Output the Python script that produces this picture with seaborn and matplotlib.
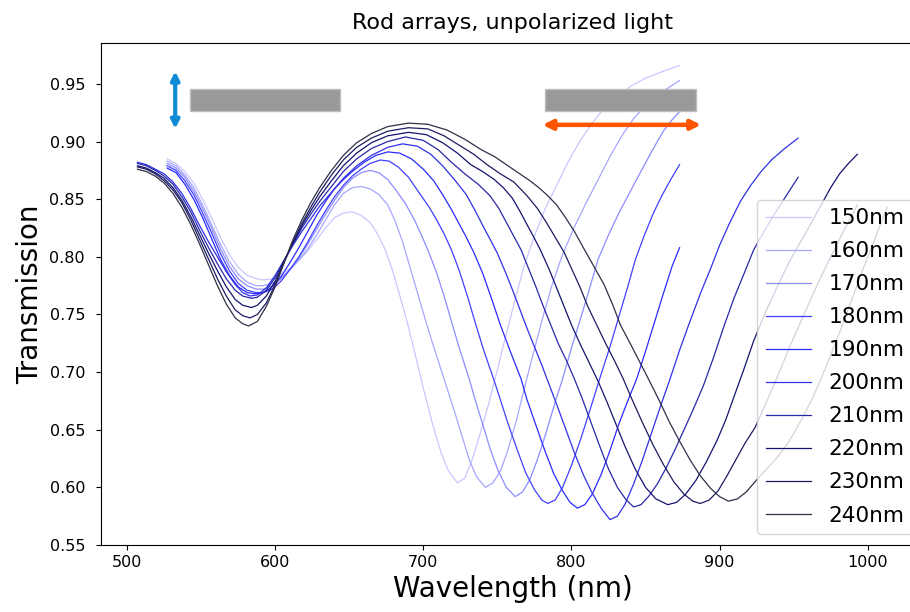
import matplotlib
matplotlib.use('Agg')
import matplotlib.pyplot as plt
import pandas as pd
import seaborn as sns
from matplotlib.patches import Rectangle

labels = ['150nm', '160nm', '170nm', '180nm', '190nm',
          '200nm', '210nm', '220nm', '230nm', '240nm']
colors = ['#c8c8ff', '#a6a6ff', '#8c8cff', '#4040ff', '#2a2aff',
          '#3030e6', '#2828a8', '#141470', '#1c1c60', '#303048']

wl_150 = [527, 533, 539, 545, 551, 557, 563, 569, 575, 581, 587, 592, 598, 604, 610, 616, 622, 628, 634, 640,
          646, 652, 658, 664, 669, 674, 679, 684, 689, 694, 700, 706, 712, 717, 723, 728, 733, 738, 744, 750,
          756, 762, 768, 775, 782, 790, 798, 806, 814, 822, 830, 840, 850, 862, 873]
t_150 = [0.885, 0.881, 0.874, 0.864, 0.850, 0.834, 0.817, 0.802, 0.791, 0.784, 0.781, 0.780, 0.781, 0.785, 0.790, 0.797, 0.805, 0.815, 0.825, 0.834,
         0.838, 0.839, 0.836, 0.830, 0.820, 0.807, 0.789, 0.767, 0.744, 0.718, 0.686, 0.656, 0.630, 0.614, 0.604, 0.608, 0.624, 0.645, 0.672, 0.702,
         0.733, 0.763, 0.792, 0.818, 0.841, 0.862, 0.883, 0.901, 0.916, 0.929, 0.939, 0.948, 0.955, 0.961, 0.966]

wl_160 = [527, 533, 539, 545, 551, 557, 563, 569, 575, 581, 587, 592, 598, 604, 610, 616, 622, 628, 634, 640,
          646, 652, 658, 664, 670, 676, 681, 686, 691, 696, 701, 706, 711, 716, 721, 726, 731, 736, 742, 747,
          752, 757, 763, 769, 775, 781, 787, 794, 802, 810, 818, 826, 834, 842, 850, 860, 873]
t_160 = [0.883, 0.879, 0.871, 0.860, 0.845, 0.828, 0.811, 0.796, 0.785, 0.778, 0.775, 0.775, 0.777, 0.782, 0.789, 0.797, 0.807, 0.819, 0.832, 0.845,
         0.855, 0.860, 0.861, 0.859, 0.854, 0.845, 0.831, 0.813, 0.791, 0.769, 0.747, 0.726, 0.706, 0.686, 0.666, 0.645, 0.624, 0.609, 0.600, 0.604,
         0.614, 0.632, 0.659, 0.690, 0.720, 0.749, 0.776, 0.802, 0.826, 0.847, 0.867, 0.887, 0.905, 0.920, 0.931, 0.942, 0.953]

wl_170 = [527, 533, 539, 545, 551, 557, 563, 569, 575, 581, 587, 592, 598, 604, 610, 616, 622, 628, 634, 640,
          646, 652, 658, 664, 670, 676, 682, 688, 694, 699, 704, 709, 714, 719, 724, 731, 735, 740, 745, 750,
          756, 762, 767, 772, 777, 783, 789, 794, 800, 807, 813, 818, 825, 832, 839, 846, 854, 862, 868, 873]
t_170 = [0.881, 0.877, 0.869, 0.857, 0.842, 0.825, 0.807, 0.792, 0.781, 0.775, 0.772, 0.772, 0.775, 0.781, 0.789, 0.799, 0.811, 0.824, 0.837, 0.849,
         0.860, 0.868, 0.873, 0.875, 0.873, 0.867, 0.857, 0.846, 0.832, 0.818, 0.803, 0.786, 0.766, 0.744, 0.722, 0.694, 0.676, 0.655, 0.634, 0.616,
         0.600, 0.592, 0.596, 0.607, 0.624, 0.648, 0.674, 0.694, 0.721, 0.750, 0.776, 0.798, 0.819, 0.838, 0.855, 0.872, 0.891, 0.909, 0.919, 0.926]

wl_180 = [527, 533, 539, 545, 551, 557, 563, 569, 575, 581, 587, 592, 598, 604, 610, 616, 622, 628, 634, 640,
          646, 652, 658, 664, 671, 677, 683, 690, 698, 704, 709, 714, 719, 724, 730, 735, 741, 748, 752, 757,
          763, 769, 775, 780, 784, 789, 794, 800, 806, 812, 819, 826, 832, 838, 843, 849, 855, 861, 867, 873]
t_180 = [0.879, 0.875, 0.866, 0.854, 0.838, 0.821, 0.803, 0.788, 0.777, 0.771, 0.769, 0.769, 0.772, 0.779, 0.789, 0.800, 0.813, 0.827, 0.840, 0.852,
         0.862, 0.870, 0.876, 0.881, 0.884, 0.883, 0.878, 0.869, 0.854, 0.843, 0.832, 0.820, 0.806, 0.789, 0.765, 0.743, 0.718, 0.692, 0.676, 0.656,
         0.634, 0.613, 0.598, 0.589, 0.586, 0.589, 0.600, 0.619, 0.641, 0.665, 0.694, 0.722, 0.748, 0.774, 0.797, 0.818, 0.837, 0.853, 0.867, 0.880]

wl_190 = [527, 533, 539, 545, 551, 557, 563, 569, 575, 581, 586, 592, 598, 604, 610, 616, 622, 628, 634, 640,
          646, 652, 660, 668, 676, 684, 692, 700, 707, 713, 719, 724, 729, 734, 740, 746, 752, 759, 766, 770,
          776, 782, 788, 794, 799, 804, 809, 814, 820, 826, 832, 838, 844, 850, 856, 862, 868, 873]
t_190 = [0.877, 0.873, 0.863, 0.850, 0.834, 0.816, 0.798, 0.784, 0.774, 0.769, 0.768, 0.769, 0.774, 0.783, 0.795, 0.808, 0.822, 0.836, 0.848, 0.859,
         0.867, 0.874, 0.882, 0.888, 0.891, 0.890, 0.885, 0.876, 0.866, 0.854, 0.841, 0.829, 0.817, 0.804, 0.786, 0.764, 0.741, 0.717, 0.694, 0.676,
         0.654, 0.632, 0.612, 0.597, 0.587, 0.582, 0.585, 0.594, 0.611, 0.632, 0.655, 0.675, 0.694, 0.718, 0.743, 0.768, 0.792, 0.808]

wl_200 = [507, 513, 519, 525, 531, 537, 543, 549, 555, 561, 567, 573, 578, 583, 588, 594, 600, 606, 612, 618,
          624, 630, 638, 646, 655, 665, 676, 686, 696, 705, 713, 721, 729, 735, 741, 746, 750, 755, 760, 765,
          770, 775, 780, 785, 790, 796, 802, 808, 814, 820, 826, 831, 836, 842, 848, 854, 860, 866, 873, 880,
          887, 894, 900, 907, 914, 921, 928, 935, 943, 953]
t_200 = [0.882, 0.880, 0.876, 0.872, 0.865, 0.855, 0.842, 0.827, 0.813, 0.800, 0.787, 0.776, 0.769, 0.766, 0.767, 0.773, 0.784, 0.797, 0.810, 0.822,
         0.833, 0.844, 0.856, 0.868, 0.879, 0.888, 0.895, 0.898, 0.896, 0.889, 0.879, 0.867, 0.854, 0.840, 0.825, 0.813, 0.803, 0.788, 0.772, 0.755,
         0.738, 0.722, 0.706, 0.689, 0.672, 0.651, 0.630, 0.611, 0.595, 0.582, 0.572, 0.575, 0.585, 0.603, 0.624, 0.647, 0.670, 0.692, 0.719, 0.744,
         0.768, 0.790, 0.810, 0.830, 0.848, 0.862, 0.874, 0.884, 0.893, 0.903]

wl_210 = [507, 513, 519, 525, 531, 537, 543, 549, 555, 561, 567, 573, 578, 584, 588, 594, 600, 606, 612, 618,
          624, 630, 638, 646, 655, 665, 676, 688, 700, 710, 719, 728, 737, 745, 751, 756, 761, 766, 771, 776,
          781, 786, 791, 797, 802, 807, 813, 819, 825, 831, 837, 842, 847, 852, 858, 864, 870, 876, 882, 889,
          896, 903, 910, 917, 923, 930, 937, 945, 953]
t_210 = [0.881, 0.879, 0.875, 0.870, 0.863, 0.852, 0.839, 0.823, 0.808, 0.794, 0.781, 0.771, 0.766, 0.764, 0.765, 0.771, 0.782, 0.797, 0.811, 0.825,
         0.837, 0.848, 0.861, 0.874, 0.885, 0.894, 0.900, 0.904, 0.901, 0.893, 0.882, 0.872, 0.863, 0.853, 0.842, 0.830, 0.818, 0.806, 0.790, 0.774,
         0.757, 0.741, 0.725, 0.709, 0.694, 0.678, 0.657, 0.636, 0.616, 0.600, 0.589, 0.583, 0.585, 0.592, 0.603, 0.617, 0.633, 0.650, 0.667, 0.688,
         0.713, 0.740, 0.765, 0.787, 0.806, 0.822, 0.837, 0.853, 0.869]

wl_220 = [507, 513, 519, 525, 531, 537, 543, 549, 555, 561, 567, 573, 578, 584, 588, 594, 600, 606, 612, 618,
          624, 630, 638, 646, 655, 665, 676, 690, 702, 713, 723, 732, 740, 748, 754, 760, 765, 770, 775, 779,
          785, 790, 795, 800, 806, 812, 818, 824, 830, 836, 843, 850, 857, 865, 871, 877, 884, 891, 898, 904,
          909, 916, 923, 931, 940, 948, 956, 963, 969, 975, 981, 987, 993]
t_220 = [0.879, 0.877, 0.873, 0.868, 0.860, 0.849, 0.835, 0.819, 0.803, 0.788, 0.774, 0.763, 0.758, 0.756, 0.758, 0.766, 0.779, 0.796, 0.812, 0.827,
         0.840, 0.852, 0.866, 0.879, 0.890, 0.899, 0.905, 0.908, 0.906, 0.899, 0.890, 0.880, 0.874, 0.867, 0.860, 0.851, 0.840, 0.828, 0.816, 0.806,
         0.789, 0.773, 0.757, 0.741, 0.724, 0.708, 0.692, 0.674, 0.655, 0.636, 0.616, 0.600, 0.590, 0.585, 0.587, 0.594, 0.606, 0.622, 0.640, 0.658,
         0.676, 0.701, 0.727, 0.752, 0.777, 0.798, 0.816, 0.832, 0.846, 0.860, 0.872, 0.881, 0.889]

wl_230 = [507, 513, 519, 525, 531, 537, 543, 549, 555, 561, 567, 573, 578, 583, 588, 594, 600, 606, 612, 618,
          624, 630, 638, 646, 655, 665, 676, 690, 703, 714, 724, 734, 743, 752, 761, 770, 777, 783, 789, 795,
          800, 806, 811, 817, 823, 829, 835, 841, 848, 855, 862, 869, 876, 882, 887, 893, 899, 905, 911, 917,
          924, 932, 940, 948, 957, 966, 975, 984, 993]
t_230 = [0.878, 0.876, 0.872, 0.866, 0.858, 0.847, 0.832, 0.815, 0.798, 0.781, 0.766, 0.754, 0.749, 0.747, 0.750, 0.760, 0.776, 0.795, 0.813, 0.829,
         0.843, 0.856, 0.871, 0.884, 0.895, 0.903, 0.909, 0.912, 0.911, 0.905, 0.897, 0.889, 0.880, 0.872, 0.865, 0.853, 0.842, 0.830, 0.817, 0.804,
         0.790, 0.773, 0.757, 0.741, 0.725, 0.710, 0.694, 0.676, 0.656, 0.637, 0.620, 0.605, 0.594, 0.588, 0.586, 0.589, 0.597, 0.610, 0.624, 0.638,
         0.652, 0.675, 0.699, 0.724, 0.750, 0.776, 0.800, 0.823, 0.845]

wl_240 = [507, 513, 519, 525, 531, 537, 543, 549, 555, 561, 567, 573, 578, 582, 588, 594, 600, 606, 612, 618,
          624, 630, 638, 646, 655, 665, 676, 690, 703, 716, 728, 739, 748, 756, 764, 772, 778, 784, 790, 796,
          802, 808, 815, 822, 828, 833, 840, 846, 852, 859, 866, 873, 880, 887, 894, 900, 906, 912, 918, 924,
          931, 939, 947, 955, 963, 971, 980, 989, 997, 1005, 1013]
t_240 = [0.876, 0.874, 0.870, 0.864, 0.855, 0.843, 0.828, 0.811, 0.793, 0.775, 0.759, 0.747, 0.742, 0.740, 0.744, 0.757, 0.774, 0.795, 0.815, 0.832,
         0.847, 0.860, 0.875, 0.888, 0.899, 0.907, 0.913, 0.916, 0.915, 0.910, 0.902, 0.893, 0.887, 0.880, 0.873, 0.866, 0.860, 0.853, 0.845, 0.834,
         0.822, 0.808, 0.792, 0.776, 0.758, 0.741, 0.724, 0.709, 0.694, 0.676, 0.657, 0.640, 0.624, 0.610, 0.599, 0.592, 0.588, 0.590, 0.596, 0.605,
         0.615, 0.626, 0.640, 0.658, 0.678, 0.702, 0.731, 0.762, 0.790, 0.816, 0.843]

wls = [wl_150, wl_160, wl_170, wl_180, wl_190, wl_200, wl_210, wl_220, wl_230, wl_240]
ts = [t_150, t_160, t_170, t_180, t_190, t_200, t_210, t_220, t_230, t_240]

x_ticks = [500, 600, 700, 800, 900, 1000]
y_ticks = [0.55, 0.60, 0.65, 0.70, 0.75, 0.80, 0.85, 0.90, 0.95]

frames = []
for lab, w, t in zip(labels, wls, ts):
    frames.append(pd.DataFrame({'Wavelength': w, 'Transmission': t, 'Size': lab}))
df = pd.concat(frames, ignore_index=True)

W, H = 910, 612
fig = plt.figure(figsize=(W / 100, H / 100), dpi=100)
ax = fig.add_axes([101 / W, 1 - 545 / H, (924 - 101) / W, (545 - 43) / H])

sns.lineplot(data=df, x='Wavelength', y='Transmission', hue='Size',
             hue_order=labels, palette=dict(zip(labels, colors)),
             sort=False, estimator=None, linewidth=0.9, legend=False, ax=ax)

# polarization sketches
ax.add_patch(Rectangle((542.6, 0.9266), 644 - 542.6, 0.9457 - 0.9266,
                       facecolor='#999999', edgecolor='#bdbdbd', lw=1, zorder=5))
ax.add_patch(Rectangle((782, 0.9266), 884.3 - 782, 0.9457 - 0.9266,
                       facecolor='#999999', edgecolor='#bdbdbd', lw=1, zorder=5))
ax.annotate('', xy=(532.5, 0.961), xytext=(532.5, 0.911),
            arrowprops=dict(arrowstyle='<|-|>', color='#0f8ad4', lw=3,
                            mutation_scale=12, shrinkA=0, shrinkB=0), zorder=6)
ax.annotate('', xy=(780.5, 0.9145), xytext=(887.5, 0.9145),
            arrowprops=dict(arrowstyle='<|-|>', color='#ff5500', lw=3.2,
                            mutation_scale=14, shrinkA=0, shrinkB=0), zorder=6)

ax.set_xlim(482.4, 1038)
ax.set_ylim(0.5505, 0.9855)
ax.set_xticks(x_ticks)
ax.set_yticks(y_ticks)
ax.set_yticklabels([f'{v:.2f}' for v in y_ticks])
ax.tick_params(labelsize=11.5)
ax.tick_params(axis='y', pad=8)
ax.set_xlabel('Wavelength (nm)', fontsize=20)
ax.set_ylabel('Transmission', fontsize=20)
ax.set_title('Rod arrays, unpolarized light', fontsize=16, pad=10)

handles = ax.get_lines()[:len(labels)]
ax.legend(handles, labels, loc='lower right', fontsize=15.6, labelspacing=0.6,
          handlelength=2.1)

fig.savefig('out.png', dpi=100)
